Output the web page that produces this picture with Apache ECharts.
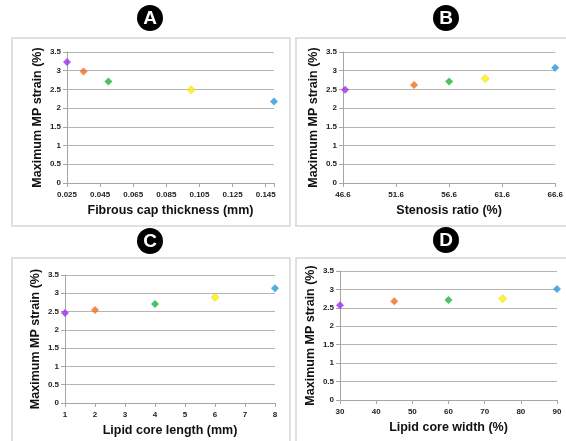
<!DOCTYPE html>
<html>
<head>
<meta charset="utf-8">
<script src="https://cdn.jsdelivr.net/npm/echarts@6/dist/echarts.min.js"></script>
<style>
  html, body { margin: 0; padding: 0; background: #fff; }
  #chart { width: 566px; height: 441px; }
</style>
</head>
<body>
<div id="chart"></div>
<script>
// values
let capThickness = [0.025, 0.035, 0.05, 0.1, 0.15]
let capStrain = [3.23, 2.98, 2.71, 2.49, 2.18]

let stenosisRatio = [46.8, 53.3, 56.6, 60.0, 66.6]
let stenosisStrain = [2.49, 2.62, 2.71, 2.79, 3.08]

let coreLength = [1, 2, 4, 6, 8]
let lengthStrain = [2.46, 2.54, 2.71, 2.89, 3.14]

let coreWidth = [30, 45, 60, 75, 90]
let widthStrain = [2.57, 2.68, 2.71, 2.75, 3.01]

let panelLetters = ['A', 'B', 'C', 'D']
let xNames = ['Fibrous cap thickness (mm)', 'Stenosis ratio (%)', 'Lipid core length (mm)', 'Lipid core width (%)']
let yName = 'Maximum MP strain (%)'
let colors = ['#a02ff0', '#f26a1e', '#1fb33c', '#fff000', '#2a97db']

let font = 'Liberation Sans, Arial, sans-serif'

let grids = [
  { left: 67, top: 52, width: 207, height: 131 },
  { left: 343, top: 52, width: 217, height: 131 },
  { left: 65, top: 275, width: 210, height: 128 },
  { left: 340, top: 271, width: 217, height: 129 }
]

let xRanges = [
  { min: 0.025, max: 0.15, interval: 0.02, digits: 3 },
  { min: 46.6, max: 66.6, interval: 5, digits: 1 },
  { min: 1, max: 8, interval: 1, digits: 0 },
  { min: 30, max: 90, interval: 10, digits: 0 }
]

let seriesData = [
  [capThickness, capStrain],
  [stenosisRatio, stenosisStrain],
  [coreLength, lengthStrain],
  [coreWidth, widthStrain]
]

function makeXAxis(r, i) {
  return {
    type: 'value',
    gridIndex: i,
    min: r.min,
    max: r.max,
    interval: r.interval,
    name: xNames[i],
    nameLocation: 'middle',
    nameGap: 21,
    nameTextStyle: { fontFamily: font, fontWeight: 'bold', fontSize: 12.5, color: '#111' },
    axisLine: { show: true, lineStyle: { color: '#a6a6a6' } },
    axisTick: { show: true, inside: false, length: 4, lineStyle: { color: '#a6a6a6' } },
    splitLine: { show: false },
    axisLabel: {
      fontFamily: font, fontWeight: 'bold', fontSize: 8, color: '#222', margin: 8,
      formatter: function (v) {
        // skip the axis end when it is not on the tick step
        let k = (v - r.min) / r.interval
        if (Math.abs(k - Math.round(k)) > 1e-6) return ''
        return v.toFixed(r.digits)
      }
    }
  }
}

function makeYAxis(i) {
  return {
    type: 'value',
    gridIndex: i,
    min: 0,
    max: 3.5,
    interval: 0.5,
    name: yName,
    nameLocation: 'middle',
    nameGap: 23,
    nameTextStyle: { fontFamily: font, fontWeight: 'bold', fontSize: 12.5, color: '#111' },
    axisLine: { show: true, lineStyle: { color: '#a6a6a6' } },
    axisTick: { show: true, length: 4, lineStyle: { color: '#a6a6a6' } },
    splitLine: { show: true, lineStyle: { color: '#b5b5b5', width: 1 } },
    axisLabel: { fontFamily: font, fontWeight: 'bold', fontSize: 8, color: '#222', margin: 6 }
  }
}

let series = seriesData.map(function (d, i) {
  return {
    type: 'scatter',
    xAxisIndex: i,
    yAxisIndex: i,
    symbol: 'diamond',
    symbolSize: 8,
    data: d[0].map(function (x, j) {
      return {
        value: [x, d[1][j]],
        itemStyle: {
          color: colors[j],
          borderColor: j === 3 ? '#d8c800' : colors[j],
          borderWidth: j === 3 ? 0.6 : 0
        }
      }
    })
  }
})

// panel frames and lettered badges
let boxes = [
  { x: 12, y: 38, w: 278, h: 188 },
  { x: 296, y: 38, w: 280, h: 188 },
  { x: 12, y: 258, w: 278, h: 200 },
  { x: 296, y: 258, w: 280, h: 200 }
]
let badges = [[150, 18], [446, 18], [150, 241], [446, 240]]

let graphic = []
boxes.forEach(function (b) {
  graphic.push({
    type: 'rect',
    shape: { x: b.x, y: b.y, width: b.w, height: b.h },
    style: { fill: 'none', stroke: '#d6d6d6', lineWidth: 1.5 },
    z: -1
  })
})
badges.forEach(function (c, i) {
  graphic.push({
    type: 'circle',
    shape: { cx: c[0], cy: c[1], r: 13 },
    style: { fill: '#000' }
  })
  graphic.push({
    type: 'text',
    x: c[0],
    y: c[1] + 1,
    style: {
      text: panelLetters[i],
      fill: '#fff',
      font: 'bold 19px ' + font,
      textAlign: 'center',
      textVerticalAlign: 'middle'
    }
  })
})

let chart = echarts.init(document.getElementById('chart'))
chart.setOption({
  backgroundColor: '#fff',
  animation: false,
  grid: grids,
  xAxis: xRanges.map(makeXAxis),
  yAxis: grids.map(function (g, i) { return makeYAxis(i) }),
  series: series,
  graphic: graphic
})
</script>
</body>
</html>
